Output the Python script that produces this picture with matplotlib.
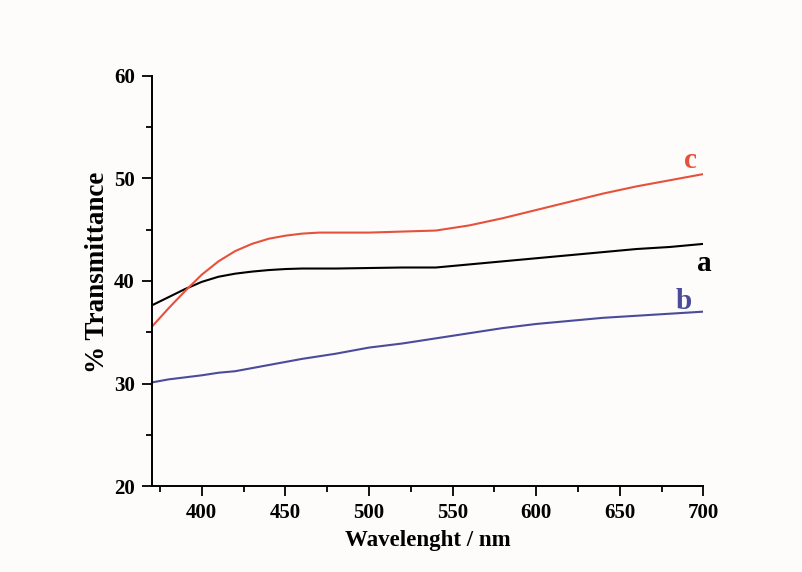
import numpy as np
import matplotlib.pyplot as plt
from matplotlib.ticker import MultipleLocator

plt.rcParams['font.family'] = ['Liberation Serif', 'DejaVu Serif']
plt.rcParams['font.weight'] = 'bold'

# UV-vis transmittance of the three films
wavelength = [370, 380, 390, 400, 410, 420, 430, 440, 450, 460, 470, 480, 500,
              520, 540, 560, 580, 600, 620, 640, 660, 680, 700]
trans_a = [37.6, 38.4, 39.2, 39.9, 40.4, 40.7, 40.9, 41.05, 41.15, 41.2, 41.2, 41.2, 41.25,
           41.3, 41.3, 41.6, 41.9, 42.2, 42.5, 42.8, 43.1, 43.3, 43.6]
trans_b = [30.1, 30.4, 30.6, 30.8, 31.05, 31.2, 31.5, 31.8, 32.1, 32.4, 32.65, 32.9, 33.5,
           33.9, 34.4, 34.9, 35.4, 35.8, 36.1, 36.4, 36.6, 36.8, 37.0]
trans_c = [35.5, 37.3, 39.0, 40.6, 41.9, 42.9, 43.6, 44.1, 44.4, 44.6, 44.7, 44.7, 44.7,
           44.8, 44.9, 45.4, 46.1, 46.9, 47.7, 48.5, 49.2, 49.8, 50.4]

fig = plt.figure(figsize=(8.02, 5.72), dpi=100, facecolor='#fdfcfb')
ax = fig.add_axes([0.189, 0.150, 0.688, 0.718])
ax.set_facecolor('#fdfcfb')

ax.plot(wavelength, trans_a, color='black', lw=1.5)
ax.plot(wavelength, trans_b, color='#4b4b9c', lw=1.5)
ax.plot(wavelength, trans_c, color='#e6513b', lw=1.5)

ax.text(700.5, 41.7, 'a', color='black', fontsize=21, fontweight='bold', ha='center', va='center')
ax.text(688.5, 38.0, 'b', color='#4b4b9c', fontsize=21, fontweight='bold', ha='center', va='center')
ax.text(692, 51.7, 'c', color='#e6513b', fontsize=21, fontweight='bold', ha='center', va='center')

ax.set_xlim(370, 700)
ax.set_ylim(20, 60)
ax.xaxis.set_major_locator(MultipleLocator(50))
ax.xaxis.set_minor_locator(MultipleLocator(25))
ax.yaxis.set_major_locator(MultipleLocator(10))
ax.yaxis.set_minor_locator(MultipleLocator(5))

for side in ['top', 'right']:
    ax.spines[side].set_visible(False)
for side in ['left', 'bottom']:
    ax.spines[side].set_linewidth(1.4)

ax.tick_params(which='major', direction='out', length=7, width=1.3, labelsize=15, pad=5)
ax.tick_params(which='minor', direction='out', length=4, width=1.3)
for lab in ax.get_xticklabels() + ax.get_yticklabels():
    lab.set_fontweight('bold')

ax.set_xlabel('Wavelenght / nm', fontsize=16.5, fontweight='bold', labelpad=5)
ax.set_ylabel('% Transmittance', fontsize=19.5, fontweight='bold')
ax.yaxis.set_label_coords(-0.076, 0.52)

fig.savefig('out.png', dpi=100, facecolor=fig.get_facecolor())
